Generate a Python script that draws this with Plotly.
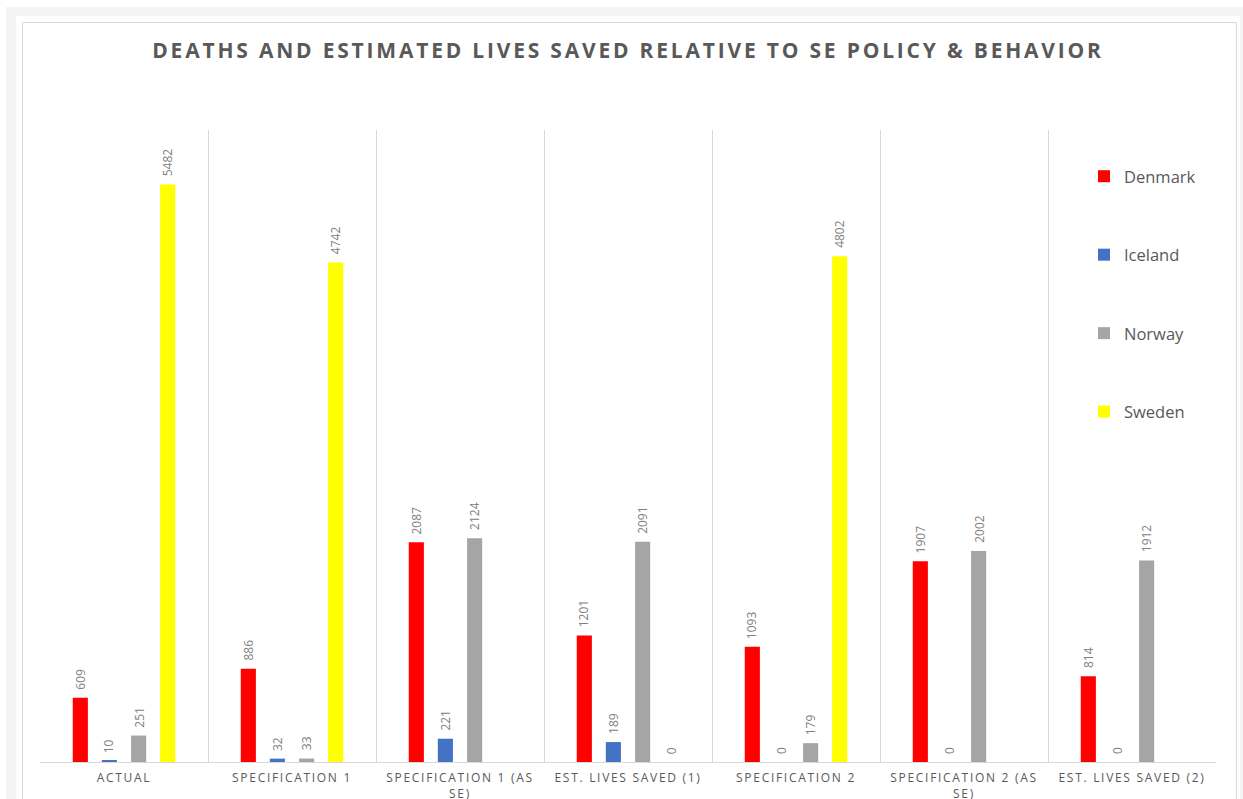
import plotly.graph_objects as go

# Scenario categories along the x axis
categories = [
    "ACTUAL",
    "SPECIFICATION 1",
    "SPECIFICATION 1 (AS<br>SE)",
    "EST. LIVES SAVED (1)",
    "SPECIFICATION 2",
    "SPECIFICATION 2 (AS<br>SE)",
    "EST. LIVES SAVED (2)",
]

# Deaths / lives saved per country (None = not reported for that scenario)
denmark = [609, 886, 2087, 1201, 1093, 1907, 814]
iceland = [10, 32, 221, 189, 0, 0, 0]
norway = [251, 33, 2124, 2091, 179, 2002, 1912]
sweden = [5482, 4742, None, 0, 4802, None, None]

series = [
    ("Denmark", denmark, "#ff0000"),
    ("Iceland", iceland, "#4472c4"),
    ("Norway", norway, "#a5a5a5"),
    ("Sweden", sweden, "#ffff00"),
]

W, H = 1243, 799
L, R, T, B = 40, 1216, 130, 762          # plot area in pixels
BAR_W = 0.09
CENTERS = [-0.26, -0.087, 0.087, 0.26]   # bar centre offset within a category
TEXT = "#595959"
LABEL = "#808080"
GRID = "#d9d9d9"


def spaced(s, px):
    return "<br>".join(
        f'<span style="letter-spacing:{px}px">{part}</span>' for part in s.split("<br>")
    )


def px_to_paper_x(px):
    return (px - L) / (R - L)


def px_to_paper_y(py):
    return (B - py) / (B - T)


xs = list(range(len(categories)))
fig = go.Figure()
annotations = []

for k, (name, vals, color) in enumerate(series):
    fig.add_trace(go.Bar(
        name=name,
        x=xs,
        y=vals,
        width=BAR_W,
        offset=CENTERS[k] - BAR_W / 2,
        marker=dict(color=color, line=dict(width=0)),
        legendgroup=name,
        hoverinfo="skip",
    ))
    for i, v in enumerate(vals):
        if v is None:
            continue
        annotations.append(dict(
            x=i + CENTERS[k], y=v, xref="x", yref="y",
            text=str(v), textangle=-90, showarrow=False,
            xanchor="center", yanchor="bottom", yshift=6,
            font=dict(family="Open Sans", size=12, color=LABEL),
        ))

# Page framing: grey band, white card, thin chart border
shapes = [
    dict(type="rect", xref="paper", yref="paper", layer="below",
         x0=px_to_paper_x(6), x1=px_to_paper_x(1243),
         y0=px_to_paper_y(820), y1=px_to_paper_y(7),
         fillcolor="#f3f3f3", line=dict(width=0)),
    dict(type="rect", xref="paper", yref="paper", layer="below",
         x0=px_to_paper_x(16), x1=px_to_paper_x(1240),
         y0=px_to_paper_y(820), y1=px_to_paper_y(16),
         fillcolor="#ffffff", line=dict(width=0)),
    dict(type="rect", xref="paper", yref="paper", layer="below",
         x0=px_to_paper_x(22.5), x1=px_to_paper_x(1236.5),
         y0=px_to_paper_y(830), y1=px_to_paper_y(22.5),
         fillcolor="#ffffff", line=dict(color=GRID, width=1)),
]

fig.update_layout(
    width=W, height=H,
    margin=dict(l=L, r=W - R, t=T, b=H - B, autoexpand=False),
    paper_bgcolor="#ffffff",
    plot_bgcolor="rgba(0,0,0,0)",
    barmode="overlay",
    font=dict(family="Open Sans", color=TEXT),
    title=dict(
        text=spaced("DEATHS AND ESTIMATED LIVES SAVED RELATIVE TO SE POLICY &amp; BEHAVIOR", 2.8),
        x=0.5, xref="paper", xanchor="center",
        y=1 - 51 / H, yref="container", yanchor="middle",
        font=dict(family="Open Sans", size=21, color=TEXT, weight="bold"),
    ),
    xaxis=dict(
        range=[-0.5, len(categories) - 0.5],
        tickvals=xs,
        ticktext=[spaced(c, 1.7) for c in categories],
        tickfont=dict(family="Open Sans", size=12, color=TEXT),
        ticklabelstandoff=5,
        ticks="", showgrid=False, zeroline=False,
        showline=True, linecolor=GRID, linewidth=1,
        minor=dict(tickvals=[i - 0.5 for i in range(len(categories) + 1)],
                   showgrid=True, gridcolor=GRID, gridwidth=1, ticks=""),
        fixedrange=True,
    ),
    yaxis=dict(
        range=[0, 6000], showticklabels=False, showgrid=False,
        zeroline=False, ticks="", fixedrange=True,
    ),
    legend=dict(
        x=px_to_paper_x(1084), y=px_to_paper_y(159),
        xanchor="left", yanchor="top",
        font=dict(family="Open Sans", size=16.5, color=TEXT),
        tracegroupgap=54, bgcolor="rgba(0,0,0,0)",
        itemclick=False, itemdoubleclick=False,
    ),
    annotations=annotations,
    shapes=shapes,
)

fig.write_html("out.html", include_plotlyjs=True, config={"displayModeBar": False})
